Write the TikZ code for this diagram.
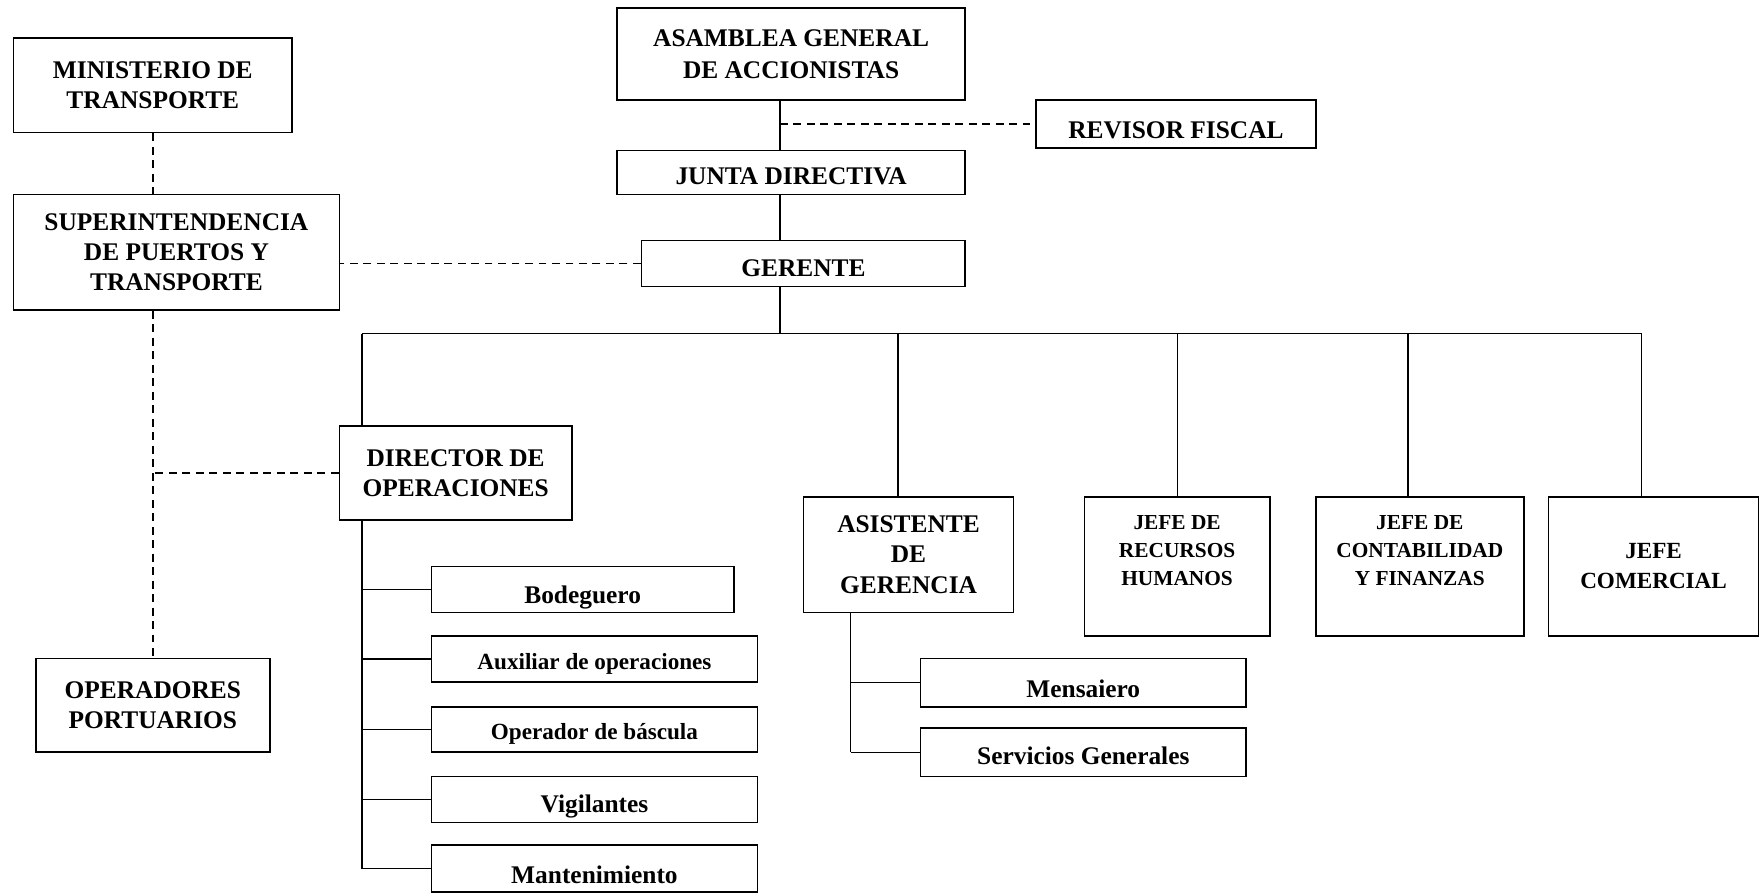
\documentclass[tikz,border=0pt]{standalone}
\usepackage{fontspec}
\setmainfont{Liberation Serif}
\newcommand\fbig{\bfseries\fontsize{11.3pt}{13.5pt}\selectfont}
\newcommand\fasm{\bfseries\fontsize{11.3pt}{14.2pt}\selectfont}
\newcommand\fmid{\bfseries\fontsize{10.3pt}{12.5pt}\selectfont}
\newcommand\fsml{\bfseries\fontsize{9.5pt}{12.6pt}\selectfont}
\newcommand\fcom{\bfseries\fontsize{10.3pt}{13.4pt}\selectfont}
\begin{document}
\begin{tikzpicture}[x=0.5pt,y=-0.5pt,
  box/.style={draw, line width=0.75pt, inner sep=0pt, align=center, font=\fbig},
  conn/.style={line width=0.6pt},
  dconn/.style={line width=0.6pt, dash pattern=on 3.5pt off 2.5pt}]
\useasboundingbox (0,0) rectangle (1568,795);

% left column
\node[box, minimum width=124pt, minimum height=42pt] (min) at (136,76) {MINISTERIO DE\\TRANSPORTE};
\node[box, minimum width=145pt, minimum height=51.5pt] (sup) at (157,224.5) {SUPERINTENDENCIA\\DE PUERTOS Y\\TRANSPORTE};
\node[box, minimum width=104pt, minimum height=41.5pt] (ope) at (136,627.5) {OPERADORES\\PORTUARIOS};

% top spine
\node[box, font=\fasm, minimum width=155pt, minimum height=41pt] (asm) at (704,48) {ASAMBLEA GENERAL\\DE ACCIONISTAS};
\node[box, minimum width=124.5pt, minimum height=21.5pt, text height=12.9pt, text depth=0pt] (rev) at (1046.5,110.5) {REVISOR FISCAL};
\node[box, minimum width=155pt, minimum height=19.5pt, text height=10.9pt, text depth=0pt] (jun) at (704,153.5) {JUNTA DIRECTIVA};
\node[box, minimum width=144pt, minimum height=20.5pt, text height=11.9pt, text depth=0pt] (ger) at (715,234.5) {GERENTE};

% second level
\node[box, minimum width=103.5pt, minimum height=42pt] (dir) at (405.5,421) {DIRECTOR DE\\OPERACIONES};
\node[box, minimum width=93.5pt, minimum height=51.5pt] (asi) at (808.5,493.5) {ASISTENTE\\DE\\GERENCIA};
\node[box, font=\fsml, minimum width=82.5pt, minimum height=62pt] (jrh) at (1047.5,504) {JEFE DE\\RECURSOS\\HUMANOS\\[1.4pt]\mbox{}};
\node[box, font=\fsml, minimum width=92.5pt, minimum height=62pt] (jco) at (1263.5,504) {JEFE DE\\CONTABILIDAD\\Y FINANZAS\\[1.4pt]\mbox{}};
\node[box, font=\fcom, minimum width=93.5pt, minimum height=62pt] (jcm) at (1471.5,504) {JEFE\\COMERCIAL};

% operations staff
\node[box, minimum width=134.5pt, minimum height=20.5pt, text height=12.9pt, text depth=0pt] (bod) at (518.5,524.5) {Bodeguero};
\node[box, font=\fmid, minimum width=145pt, minimum height=20.5pt, text height=9.3pt, text depth=0pt] (aux) at (529,586.5) {Auxiliar de operaciones};
\node[box, font=\fmid, minimum width=145pt, minimum height=20pt, text height=8.8pt, text depth=0pt] (bas) at (529,649) {Operador de báscula};
\node[box, minimum width=145pt, minimum height=20.5pt, text height=11.9pt, text depth=0pt] (vig) at (529,711.5) {Vigilantes};
\node[box, minimum width=145pt, minimum height=21pt, text height=13.4pt, text depth=0pt] (man) at (529,773) {Mantenimiento};

% assistant staff
\node[box, minimum width=145pt, minimum height=21.5pt, text height=12.9pt, text depth=0pt] (men) at (964,607.5) {Mensaiero};
\node[box, minimum width=145pt, minimum height=21.5pt, text height=10.9pt, text depth=0pt] (ser) at (964,669.5) {Servicios Generales};

% coordinates
\coordinate (sp) at (694,0);
\coordinate (busL) at (322,297);
\coordinate (b2) at (799,297);
\coordinate (b3) at (1048,297);
\coordinate (b4) at (1253,297);
\coordinate (busR) at (1461,297);
\coordinate (asp) at (757,0);

% solid connectors
\draw[conn] (asm.south -| sp) -- (jun.north -| sp);
\draw[conn] (jun.south -| sp) -- (ger.north -| sp);
\draw[conn] (ger.south -| sp) -- (sp |- busL);
\draw[conn] (busL) -- (busR);
\draw[conn] (busL) -- (dir.north -| busL);
\draw[conn] (b2) -- (asi.north -| b2);
\draw[conn] (b3) -- (jrh.north -| b3);
\draw[conn] (b4) -- (jco.north -| b4);
\draw[conn] (busR) -- (jcm.north -| busR);

\draw[conn] (dir.south -| busL) -- (man.west -| busL);
\foreach \n in {bod,aux,bas,vig,man}
  \draw[conn] (\n.west -| busL) -- (\n.west);

\draw[conn] (asi.south -| asp) -- (ser.west -| asp);
\foreach \n in {men,ser}
  \draw[conn] (\n.west -| asp) -- (\n.west);

% dashed connectors
\draw[dconn] (rev.west -| sp) -- (rev.west);
\draw[dconn] (ger.west) -- (ger.west -| sup.east);
\draw[dconn] (min.south) -- (min.south |- sup.north);
\draw[dconn] (sup.south -| ope.north) -- (ope.north);
\draw[dconn] (dir.west) -- (dir.west -| ope.north);
\end{tikzpicture}
\end{document}
